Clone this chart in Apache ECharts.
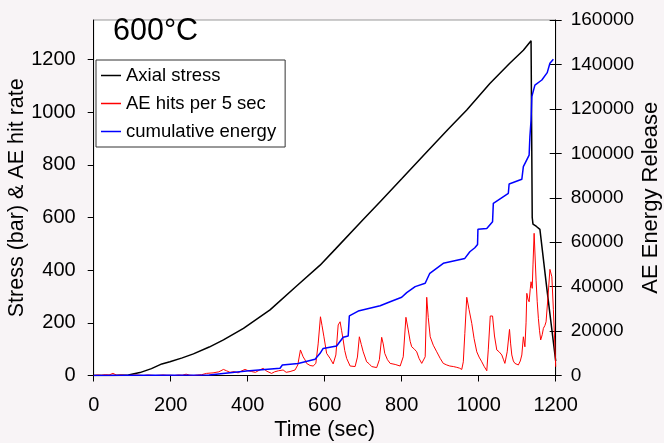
<!DOCTYPE html>
<html>
<head>
<meta charset="utf-8">
<script src="https://cdn.jsdelivr.net/npm/echarts@6/dist/echarts.min.js"></script>
<style>
html,body{margin:0;padding:0;background:#f8f4f6;}
#chart{width:664px;height:443px;}
</style>
</head>
<body>
<div id="chart"></div>
<script>
// ---- data ----
var xTicks = [0, 200, 400, 600, 800, 1000, 1200];
var leftTicks = [0, 200, 400, 600, 800, 1000, 1200];
var rightTicks = [0, 20000, 40000, 60000, 80000, 100000, 120000, 140000, 160000];

var stressTime  = [0, 50, 90, 120, 150, 177, 198, 230, 259, 300, 337, 389, 458, 527, 588, 627, 700, 744, 800, 865, 920, 969, 1029, 1080, 1116, 1136, 1138, 1139, 1141, 1150, 1159, 1177, 1200];
var stressValue = [0, 0, 2, 11, 26, 44, 52, 67, 82, 108, 135, 179, 249, 340, 419, 479, 592, 660, 747, 849, 934, 1008, 1109, 1185, 1235, 1271, 1271, 600, 575, 566, 555, 330, 55];

var hitsTime  = [0, 10, 20, 30, 40, 50, 55, 60, 70, 80, 90, 100, 110, 120, 130, 140, 150, 160, 170, 180, 190, 200, 210, 220, 230, 240, 250, 260, 270, 280, 293, 310, 325, 337, 345, 354, 365, 375, 385, 393, 400, 410, 420, 430, 440, 450, 462, 470, 480, 492, 500, 510, 523, 530, 537, 544, 549, 553, 562, 570, 577, 583, 589, 593, 598, 605, 614, 622, 629, 635, 640, 644, 648, 652, 657, 666, 679, 685, 690, 695, 700, 709, 715, 722, 735, 742, 748, 752, 756, 763, 770, 783, 796, 804, 811, 817, 822, 826, 833, 839, 845, 852, 857, 861, 865, 869, 874, 882, 891, 900, 908, 917, 925, 934, 943, 950, 956, 960, 964, 969, 975, 982, 988, 995, 1001, 1008, 1014, 1021, 1025, 1030, 1036, 1041, 1047, 1053, 1060, 1064, 1068, 1074, 1080, 1083, 1086, 1090, 1094, 1103, 1108, 1112, 1116, 1120, 1123, 1125, 1128, 1131, 1134, 1136, 1139, 1141, 1144, 1149, 1152, 1155, 1158, 1161, 1165, 1168, 1172, 1175, 1180, 1185, 1190, 1194, 1198, 1200];
var hitsValue = [0, 2, 1, 3, 2, 8, 4, 1, 2, 1, 0, 1, 2, 1, 0, 2, 1, 0, 1, 2, 1, 1, 0, 2, 1, 5, 1, 0, 2, 3, 8, 10, 14, 23, 18, 12, 15, 10, 18, 23, 19, 15, 12, 20, 27, 16, 8, 14, 18, 21, 12, 15, 21, 40, 97, 71, 59, 46, 38, 36, 46, 120, 223, 190, 147, 84, 65, 44, 78, 192, 204, 170, 135, 95, 65, 36, 34, 70, 147, 118, 90, 52, 45, 34, 30, 60, 145, 120, 84, 60, 46, 42, 36, 71, 221, 173, 130, 109, 100, 90, 65, 46, 50, 71, 297, 220, 147, 115, 90, 65, 46, 40, 36, 34, 31, 28, 23, 52, 160, 297, 250, 198, 140, 90, 70, 52, 35, 18, 100, 226, 226, 150, 97, 90, 78, 62, 46, 90, 175, 120, 78, 55, 46, 40, 55, 78, 147, 109, 200, 312, 290, 280, 330, 356, 331, 420, 540, 362, 280, 217, 170, 135, 155, 179, 190, 204, 300, 403, 375, 250, 109, 33];

var energyTime  = [0, 300, 354, 397, 484, 490, 531, 575, 588, 596, 631, 648, 661, 664, 687, 744, 770, 800, 813, 835, 861, 873, 908, 964, 977, 990, 997, 998, 1021, 1036, 1038, 1077, 1079, 1112, 1116, 1131, 1133, 1136, 1138, 1146, 1164, 1178, 1185, 1194];
var energyValue = [0, 200, 1260, 2000, 3240, 4700, 5400, 7300, 10000, 12200, 13300, 17200, 17800, 26800, 29000, 31400, 33200, 35200, 37300, 40000, 41500, 46000, 50500, 52700, 55700, 57500, 59000, 65800, 66200, 69200, 77500, 82000, 86200, 88300, 94000, 99200, 107500, 115000, 125500, 130700, 133000, 136300, 140500, 142300];

function pairs(xs, ys) { return xs.map(function (x, i) { return [x, ys[i]]; }); }
function plain(v) { return String(v); }

var FONT = 'Liberation Sans';
var chart = echarts.init(document.getElementById('chart'));
chart.setOption({
  backgroundColor: '#f8f4f6',
  animation: false,
  textStyle: { fontFamily: FONT, color: '#000' },
  title: {
    text: '600°C', left: 113, top: 16, padding: 0,
    textStyle: { fontFamily: FONT, fontSize: 30.5, fontWeight: 'normal', color: '#000' }
  },
  legend: {
    orient: 'vertical', left: 96, top: 60,
    padding: [6, 9, 6, 5], itemGap: 9, itemWidth: 20, itemHeight: 1.5,
    backgroundColor: '#fff', borderColor: '#333', borderWidth: 1,
    textStyle: { fontFamily: FONT, fontSize: 18.5, color: '#000' },
    data: [
      { name: 'Axial stress', icon: 'rect' },
      { name: 'AE hits per 5 sec', icon: 'rect' },
      { name: 'cumulative energy', icon: 'rect' }
    ]
  },
  grid: {
    left: 93.7, right: 108.3, top: 20, bottom: 67.5,
    containLabel: false, outerBoundsMode: 'none',
    show: true, backgroundColor: '#fff', borderColor: '#999', borderWidth: 1
  },
  xAxis: {
    type: 'value', min: 0, max: 1200, interval: 200,
    name: 'Time (sec)', nameLocation: 'middle', nameGap: 44, nameMoveOverlap: false,
    nameTextStyle: { fontFamily: FONT, fontSize: 21.5, color: '#000' },
    axisLine: { lineStyle: { color: '#000', width: 1 } },
    axisTick: { length: 6, lineStyle: { color: '#000' }, customValues: xTicks },
    axisLabel: { fontFamily: FONT, fontSize: 20, color: '#000', margin: 20, customValues: xTicks, formatter: plain },
    splitLine: { show: false }
  },
  yAxis: [
    {
      type: 'value', min: 0, max: 1350, interval: 200, position: 'left',
      name: 'Stress (bar) & AE hit rate', nameLocation: 'middle', nameGap: 66, nameRotate: 90, nameMoveOverlap: false,
      nameTextStyle: { fontFamily: FONT, fontSize: 21.5, color: '#000' },
      axisLine: { show: true, lineStyle: { color: '#000', width: 1 } },
      axisTick: { show: true, length: 6, lineStyle: { color: '#000' }, customValues: leftTicks },
      axisLabel: { fontFamily: FONT, fontSize: 20, color: '#000', margin: 18, customValues: leftTicks, formatter: plain },
      splitLine: { show: false }
    },
    {
      type: 'value', min: 0, max: 160000, interval: 20000, position: 'right',
      name: 'AE Energy Release', nameLocation: 'middle', nameGap: 84, nameRotate: 90, nameMoveOverlap: false,
      nameTextStyle: { fontFamily: FONT, fontSize: 22, color: '#000' },
      axisLine: { show: true, lineStyle: { color: '#000', width: 1 } },
      axisTick: { show: true, length: 6, lineStyle: { color: '#000' }, customValues: rightTicks },
      axisLabel: { fontFamily: FONT, fontSize: 19, color: '#000', margin: 15, customValues: rightTicks, formatter: plain },
      splitLine: { show: false }
    },
    {
      type: 'value', min: 0, max: 160000, interval: 20000, position: 'right',
      axisLine: { show: false },
      axisTick: { show: true, inside: true, length: 6, lineStyle: { color: '#000' }, customValues: rightTicks },
      axisLabel: { show: false },
      splitLine: { show: false }
    }
  ],
  series: [
    {
      name: 'Axial stress', type: 'line', yAxisIndex: 0, symbol: 'none',
      lineStyle: { color: '#000', width: 1.5 }, itemStyle: { color: '#000' },
      data: pairs(stressTime, stressValue)
    },
    {
      name: 'AE hits per 5 sec', type: 'line', yAxisIndex: 0, symbol: 'none',
      lineStyle: { color: '#ff0000', width: 1 }, itemStyle: { color: '#ff0000' },
      data: pairs(hitsTime, hitsValue)
    },
    {
      name: 'cumulative energy', type: 'line', yAxisIndex: 1, symbol: 'none',
      lineStyle: { color: '#0000ff', width: 1.5 }, itemStyle: { color: '#0000ff' },
      data: pairs(energyTime, energyValue)
    }
  ]
});
</script>
</body>
</html>
